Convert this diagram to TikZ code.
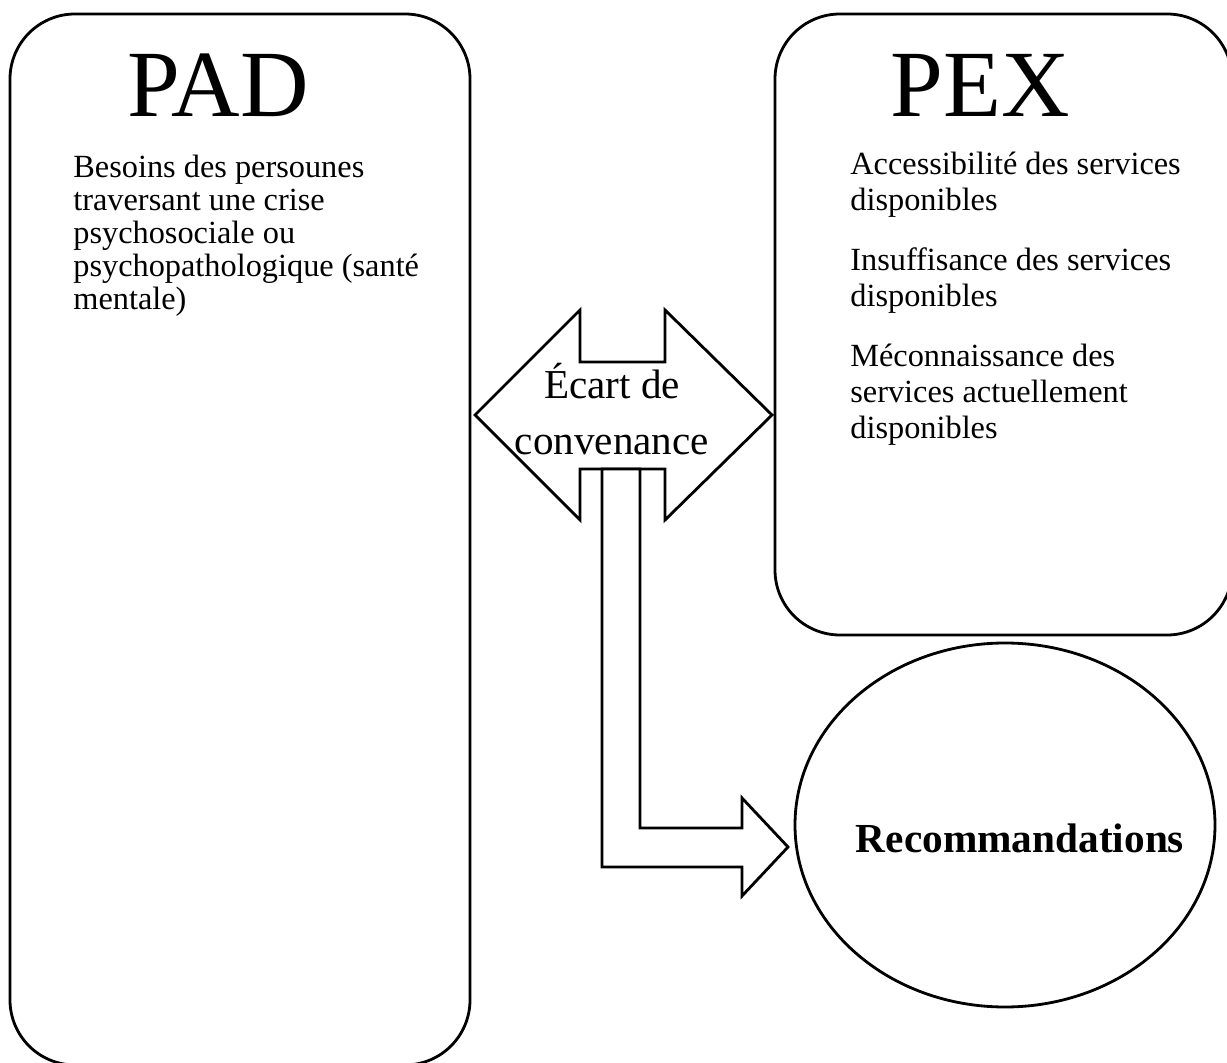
\documentclass[tikz,border=0pt]{standalone}
\usepackage{fontspec}
\setmainfont{Liberation Serif}
\usetikzlibrary{positioning,shapes.geometric,calc}
\tikzset{
  panel/.style={draw, line width=1.6pt, rounded corners=1.3cm, inner sep=0pt},
  heading/.style={font=\fontsize{54}{60}\selectfont, anchor=base, inner sep=0pt},
  padtext/.style={font=\fontsize{18.4}{18.9}\selectfont, align=left, anchor=base west, inner sep=0pt},
  pextext/.style={font=\fontsize{18.4}{20.6}\selectfont, align=left, anchor=base west, inner sep=0pt},
  blockarrow/.style={draw, line width=1.6pt, fill=white, line join=miter},
  outcome/.style={ellipse, draw, line width=1.6pt, minimum width=8.4cm, minimum height=7.28cm, inner sep=0pt}
}

\begin{document}
\begin{tikzpicture}
    \useasboundingbox (0,0) rectangle (24.54,21.24);
    % the two panels and the result
    \node[panel, minimum width=9.2cm, minimum height=21.02cm] (pad) at (4.8,10.45) {};
    \node[panel, minimum width=9.14cm, minimum height=12.42cm] (pex) at (20.07,14.75) {};
    \node[outcome] (reco) at (20.1,4.74) {};
    % gap arrow between PAD and PEX
    \draw[blockarrow] (9.5,12.94) -- (11.6,15.04) -- (11.6,14.0) -- (13.3,14.0) -- (13.3,15.04)
        -- (15.44,12.94) -- (13.3,10.84) -- (13.3,11.86) -- (11.6,11.86) -- (11.6,10.84) -- cycle;
    % bent arrow down to the recommendations
    \draw[blockarrow] (12.04,11.86) -- (12.04,3.9) -- (14.84,3.9) -- (14.84,3.32) -- (15.76,4.3)
        -- (14.84,5.28) -- (14.84,4.68) -- (12.8,4.68) -- (12.8,11.86) -- cycle;
    % texts (base = last line)
    \node[heading] (padtitle) at (4.36,18.9) {PAD};
    \node[heading] (pextitle) at (19.6,18.9) {PEX};
    \node[padtext] (needs) at (1.46,15.04) {Besoins des persounes\\ traversant une crise\\ psychosociale ou\\ psychopathologique (santé\\ mentale)};
    \node[pextext] (access) at (17.0,17.02) {Accessibilité des services\\ disponibles};
    \node[pextext] (lack) at (17.0,15.10) {Insuffisance des services\\ disponibles};
    \node[pextext] (unknown) at (17.0,12.46) {Méconnaissance des\\ services actuellement\\ disponibles};
    \node[font=\fontsize{23.4}{32.3}\selectfont, align=center, anchor=base, inner sep=0pt] (ecart) at (12.24,12.14) {Écart de\\ convenance};
    \node[font=\fontsize{23.5}{28}\selectfont\bfseries, anchor=base, inner sep=0pt] (recotext) at (20.4,4.2) {Recommandations};
\end{tikzpicture}
\end{document}
